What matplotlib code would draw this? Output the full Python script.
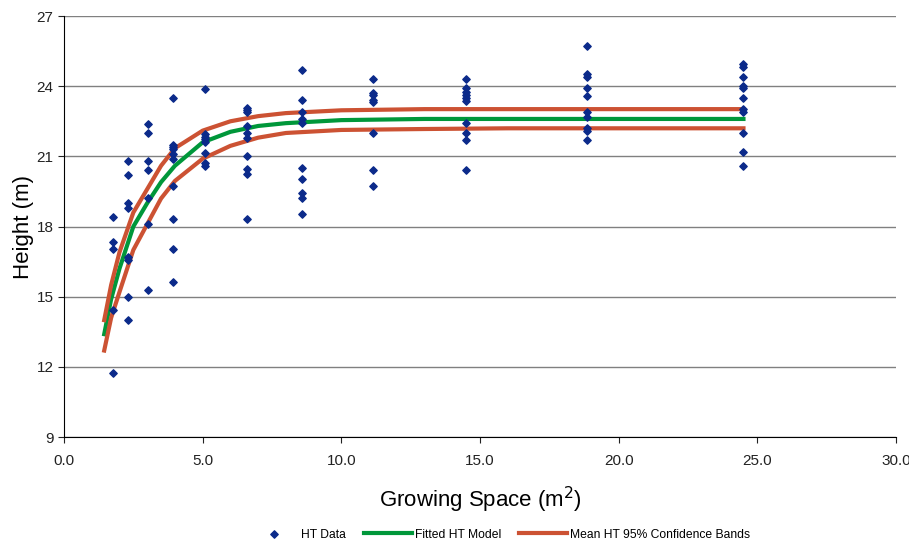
import matplotlib.pyplot as plt
import numpy as np

plt.rcParams['font.family'] = ['Liberation Sans', 'DejaVu Sans']

# observed heights, grouped by growing space (m2)
space = [1.77, 2.31, 3.03, 3.93, 5.08, 6.6, 8.58, 11.14, 14.5, 18.86, 24.49]
heights = [
    [18.42, 17.35, 17.03, 14.43, 11.72],
    [20.8, 20.2, 19.0, 18.8, 16.7, 16.55, 15.0, 14.0],
    [22.4, 22.0, 20.8, 20.4, 19.2, 18.1, 15.3],
    [23.5, 21.5, 21.4, 21.3, 21.1, 20.9, 19.73, 18.31, 17.03, 15.61],
    [23.9, 21.96, 21.84, 21.74, 21.63, 21.13, 20.7, 20.59],
    [23.05, 22.98, 22.91, 22.3, 22.01, 21.8, 21.01, 20.45, 20.23, 18.32],
    [24.69, 23.41, 22.91, 22.6, 22.41, 20.52, 20.02, 19.42, 19.2, 18.52],
    [24.29, 23.72, 23.62, 23.41, 23.31, 22.01, 20.42, 19.73],
    [24.29, 23.93, 23.76, 23.62, 23.48, 23.37, 22.41, 22.01, 21.7, 20.42],
    [25.72, 24.51, 24.41, 23.91, 23.59, 22.91, 22.7, 22.2, 22.1, 21.7],
    [24.93, 24.81, 24.38, 24.01, 23.91, 23.48, 23.03, 22.91, 22.01, 21.2, 20.6],
]

# fitted model and 95% bands
xfit  = [1.45, 1.7, 2.0, 2.5, 3.0, 3.5, 4.0, 5.0, 6.0, 7.0, 8.0, 10.0, 13.0, 16.0, 19.0, 22.0, 24.5]
fit   = [13.4, 14.9, 16.2, 18.0, 19.0, 19.9, 20.6, 21.6, 22.05, 22.3, 22.42, 22.55, 22.6, 22.6, 22.6, 22.6, 22.6]
upper = [14.0, 15.5, 16.9, 18.6, 19.6, 20.6, 21.35, 22.1, 22.5, 22.72, 22.85, 22.97, 23.02, 23.02, 23.02, 23.02, 23.02]
lower = [12.7, 14.1, 15.2, 17.0, 18.1, 19.2, 19.95, 20.9, 21.45, 21.8, 22.0, 22.13, 22.17, 22.2, 22.2, 22.2, 22.2]

xs = np.concatenate([[s] * len(h) for s, h in zip(space, heights)])
ys = np.concatenate(heights)

fig = plt.figure(figsize=(9.09, 5.45), dpi=100)
ax = fig.add_axes([0.0704, 0.198, 0.9153, 0.7726])

ax.scatter(xs, ys, marker='D', s=14, color='#0b2a8a', zorder=4, label='HT Data')
ax.plot(xfit, fit, color='#00973a', lw=3, zorder=3, label='Fitted HT Model')
ax.plot(xfit, upper, color='#cc5233', lw=3, zorder=3, label='Mean HT 95% Confidence Bands')
ax.plot(xfit, lower, color='#cc5233', lw=3, zorder=3)

ax.set_xlim(0, 30)
ax.set_ylim(9, 27)
ax.set_xticks(np.arange(0, 31, 5))
ax.set_xticklabels(['%.1f' % v for v in np.arange(0, 31, 5)])
ax.set_yticks(np.arange(9, 28, 3))
ax.yaxis.grid(True, color='#808080', lw=1)
ax.set_axisbelow(True)
ax.spines['top'].set_visible(False)
ax.spines['right'].set_visible(False)
ax.tick_params(direction='out', length=4, labelsize=11, colors='#222222')
ax.tick_params(axis='x', pad=8)

ax.set_ylabel('Height (m)', fontsize=16, labelpad=2)
ax.set_xlabel('Growing Space (m$^2$)', fontsize=16, labelpad=12)

h, l = ax.get_legend_handles_labels()
fig.legend(h, l, loc='lower center', bbox_to_anchor=(0.55, -0.012), ncol=3,
           frameon=False, fontsize=8.7, handlelength=4, handletextpad=0.2,
           columnspacing=1.5)

fig.savefig('out.png', dpi=100)
